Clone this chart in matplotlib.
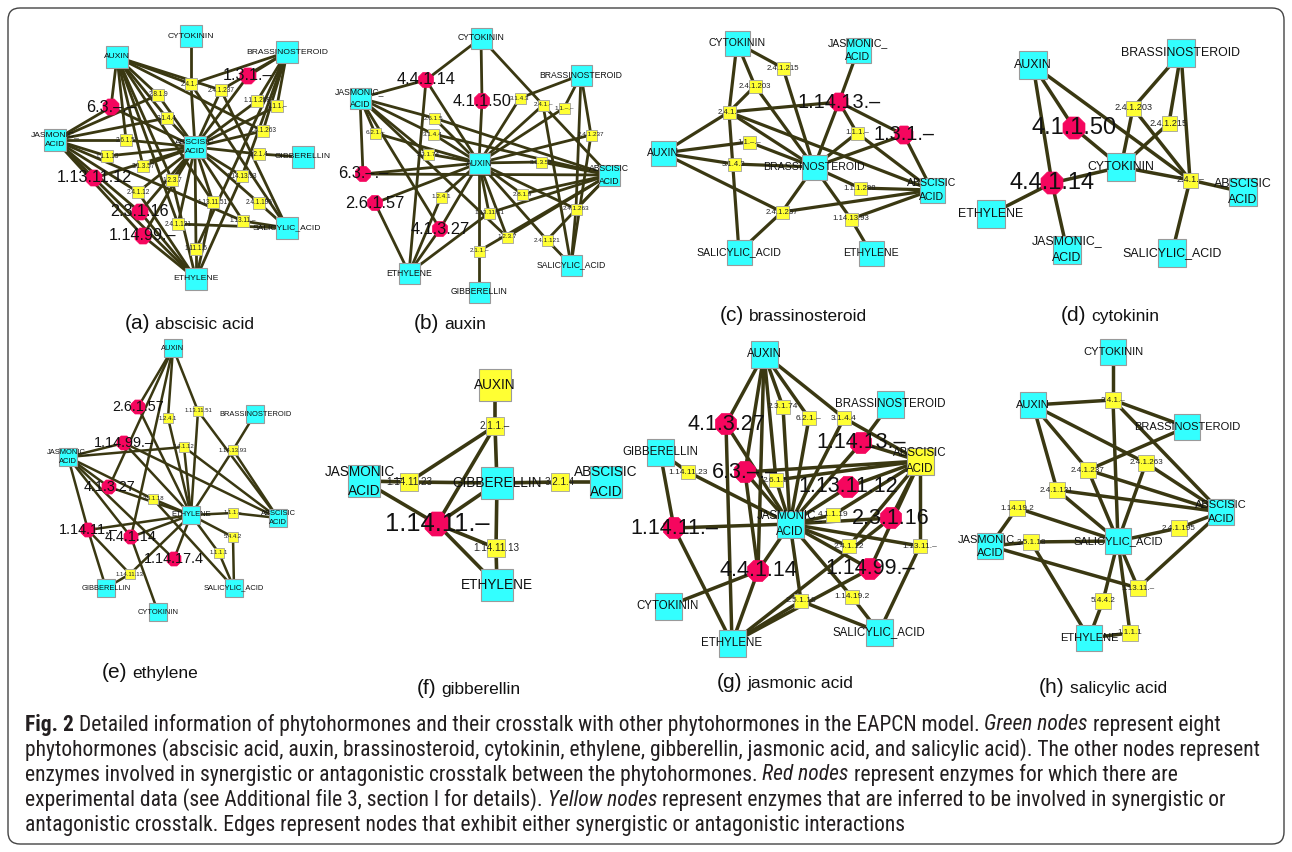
import matplotlib
matplotlib.use('Agg')
import matplotlib.pyplot as plt
from matplotlib.patches import Rectangle, RegularPolygon, FancyBboxPatch
from matplotlib import font_manager

plt.rcParams['font.family'] = ['Liberation Sans', 'DejaVu Sans']

# hormone keys -> label shown on the node
hormone_labels = {'ABA': 'ABSCISIC\nACID', 'AUX': 'AUXIN', 'BR': 'BRASSINOSTEROID',
                  'CK': 'CYTOKININ', 'ETH': 'ETHYLENE', 'GA': 'GIBBERELLIN',
                  'JA': 'JASMONIC_\nACID', 'SA': 'SALICYLIC_ACID'}

# ---- (a) abscisic acid ----
hormones_a = {'CK': (191, 36), 'AUX': (117, 57), 'BR': (287, 52), 'JA': (55, 140),
              'ABA': (195, 147), 'GA': (303, 157), 'SA': (287, 228), 'ETH': (196, 279)}
red_a = {'1.3.1.-': (248, 76), '6.3.-.-': (111, 107), '1.13.11.12': (94, 178),
         '2.3.1.16': (140, 212), '1.14.99.-': (143, 236)}
yellow_a = {'2.4.1.-': (191, 84), '2.4.1.237': (221, 90), '2.8.1.9': (158, 95),
            '1.1.1.288': (257, 101), '1.1.1.-': (277, 106), '3.1.4.4': (167, 118),
            '2.4.1.263': (263, 131), '2.6.1.5': (126, 140), '1.1.1.13': (107, 156),
            '3.2.1.4': (259, 154), '3.1.3.57': (143, 166), '1.2.3.7': (172, 180),
            '1.14.13.93': (242, 176), '2.4.1.12': (138, 192), '1.13.11.51': (213, 202),
            '2.4.1.195': (259, 203), '2.4.1.121': (178, 224), '1.13.11.-': (243, 221),
            '1.11.1.6': (196, 249)}
edges_a = [('2.4.1.-', 'CK', 'AUX', 'BR', 'ABA', 'SA'), ('2.4.1.237', 'AUX', 'BR', 'ABA', 'SA'),
           ('2.8.1.9', 'AUX', 'ABA', 'JA'), ('1.3.1.-', 'BR', 'ABA'), ('1.1.1.288', 'BR', 'ABA'),
           ('1.1.1.-', 'BR', 'ABA'), ('3.1.4.4', 'AUX', 'JA', 'ABA'), ('2.4.1.263', 'BR', 'ABA', 'AUX'),
           ('2.6.1.5', 'AUX', 'JA', 'ABA'), ('1.1.1.13', 'JA', 'ABA'), ('3.2.1.4', 'GA', 'ABA'),
           ('3.1.3.57', 'AUX', 'ABA'), ('1.2.3.7', 'AUX', 'ABA', 'ETH'),
           ('1.14.13.93', 'BR', 'ABA', 'ETH'), ('2.4.1.12', 'JA', 'ABA', 'ETH'),
           ('6.3.-.-', 'AUX', 'JA', 'ABA'), ('1.13.11.12', 'JA', 'ABA', 'ETH'),
           ('2.3.1.16', 'JA', 'ABA', 'ETH'), ('1.14.99.-', 'JA', 'ABA', 'ETH'),
           ('1.13.11.51', 'AUX', 'ABA', 'ETH'), ('2.4.1.195', 'ABA', 'SA'),
           ('2.4.1.121', 'AUX', 'ABA', 'SA'), ('1.13.11.-', 'JA', 'ABA', 'SA'),
           ('1.11.1.6', 'ABA', 'ETH', 'BR')]

# ---- (b) auxin ----
hormones_b = {'CK': (481, 38), 'BR': (581, 75), 'JA': (360, 98), 'AUX': (479, 163),
              'ABA': (609, 175), 'SA': (571, 265), 'ETH': (409, 273), 'GA': (479, 292)}
red_b = {'4.4.1.14': (426, 80), '4.1.1.50': (482, 101), '6.3.-.-': (363, 174),
         '2.6.1.57': (375, 203), '4.1.3.27': (440, 229)}
yellow_b = {'3.1.4.3': (520, 98), '2.4.1.-': (543, 105), '1.1.-.-': (564, 108),
            '2.6.1.5': (434, 118), '6.2.1.-': (375, 133), '3.1.4.4': (433, 134),
            '2.4.1.237': (591, 135), '2.3.1.74': (428, 154), '3.1.3.57': (541, 162),
            '1.2.4.1': (441, 197), '2.8.1.9': (522, 194), '1.13.11.51': (489, 213),
            '2.4.1.263': (576, 209), '1.2.3.7': (507, 237), '2.4.1.121': (547, 240),
            '2.1.1.-': (479, 251)}
edges_b = [('4.4.1.14', 'CK', 'JA', 'AUX', 'ETH'), ('4.1.1.50', 'CK', 'AUX'),
           ('2.4.1.-', 'CK', 'AUX', 'ABA', 'SA'), ('3.1.4.3', 'BR', 'AUX'), ('1.1.-.-', 'BR', 'AUX'),
           ('2.4.1.237', 'BR', 'AUX', 'SA'), ('2.4.1.263', 'BR', 'AUX', 'ABA', 'SA'),
           ('6.2.1.-', 'JA', 'AUX'), ('2.6.1.5', 'JA', 'AUX', 'ABA'), ('3.1.4.4', 'JA', 'AUX', 'ABA'),
           ('2.3.1.74', 'JA', 'AUX'), ('6.3.-.-', 'JA', 'AUX', 'ABA'), ('2.6.1.57', 'AUX', 'ETH'),
           ('4.1.3.27', 'JA', 'AUX', 'ETH'), ('1.2.4.1', 'AUX', 'ETH'), ('3.1.3.57', 'AUX', 'ABA'),
           ('2.8.1.9', 'AUX', 'ABA'), ('1.13.11.51', 'AUX', 'ABA', 'ETH'),
           ('1.2.3.7', 'JA', 'AUX', 'ABA'), ('2.4.1.121', 'AUX', 'ABA', 'SA'),
           ('2.1.1.-', 'AUX', 'GA', 'ABA')]

# ---- (c) brassinosteroid ----
hormones_c = {'CK': (737, 43), 'JA': (858, 50), 'AUX': (663, 153), 'BR': (814, 167),
              'ABA': (932, 190), 'SA': (739, 252), 'ETH': (871, 253)}
red_c = {'1.14.13.-': (839, 102), '1.3.1.-': (904, 135)}
yellow_c = {'2.4.1.215': (783, 68), '2.4.1.203': (755, 86), '2.4.1.-': (729, 112),
            '1.1.1.-': (857, 133), '1.1.-.-': (749, 142), '3.1.4.3': (734, 164),
            '1.1.1.288': (860, 188), '2.4.1.237': (782, 212), '1.14.13.93': (851, 219)}
edges_c = [('2.4.1.215', 'CK', 'BR'), ('2.4.1.203', 'CK', 'BR', '2.4.1.-'),
           ('2.4.1.-', 'CK', 'AUX', 'BR', 'ABA', 'SA', '1.14.13.-'), ('1.1.-.-', 'AUX', 'BR'),
           ('3.1.4.3', 'AUX', 'BR'), ('2.4.1.237', 'AUX', 'BR', 'SA', 'ABA'),
           ('1.14.13.-', 'JA', 'BR', '1.1.1.-', '1.3.1.-'), ('1.3.1.-', 'BR', 'ABA'),
           ('1.1.1.-', 'BR', 'ABA'), ('1.1.1.288', 'BR', 'ABA'), ('1.14.13.93', 'BR', 'ETH', 'ABA')]

# ---- (d) cytokinin ----
hormones_d = {'AUX': (1033, 65), 'BR': (1181, 53), 'CK': (1121, 167), 'ABA': (1243, 192),
              'ETH': (991, 214), 'JA': (1067, 250), 'SA': (1172, 253)}
red_d = {'4.1.1.50': (1074, 128), '4.4.1.14': (1052, 183)}
yellow_d = {'2.4.1.203': (1133, 108), '2.4.1.215': (1169, 123), '2.4.1.-': (1190, 180)}
edges_d = [('4.1.1.50', 'AUX', 'CK'), ('4.4.1.14', 'AUX', 'CK', 'ETH', 'JA'),
           ('2.4.1.203', 'BR', 'CK', '2.4.1.-'), ('2.4.1.215', 'BR', 'CK'),
           ('2.4.1.-', 'AUX', 'BR', 'CK', 'ABA', 'SA')]

# ---- (e) ethylene ----
hormones_e = {'AUX': (173, 348), 'BR': (255, 414), 'JA': (68, 457), 'ETH': (191, 515),
              'ABA': (278, 518), 'GA': (106, 588), 'SA': (234, 588), 'CK': (158, 612)}
red_e = {'2.6.1.57': (138, 407), '1.14.99.-': (124, 443), '4.1.3.27': (109, 487),
         '1.14.11.-': (88, 530), '4.4.1.14': (131, 537), '1.14.17.4': (174, 559)}
yellow_e = {'1.2.4.1': (168, 418), '1.13.11.51': (198, 411), '2.4.1.12': (184, 447),
            '1.14.13.93': (233, 450), '2.5.1.18': (153, 499), '1.1.1.-': (233, 513),
            '5.4.4.2': (233, 537), '1.1.1.1': (219, 553), '1.14.11.13': (130, 574)}
edges_e = [('2.6.1.57', 'AUX', 'ETH'), ('1.2.4.1', 'AUX', 'ETH'),
           ('1.13.11.51', 'AUX', 'ETH', 'ABA'), ('4.1.3.27', 'AUX', 'JA', 'ETH'),
           ('4.4.1.14', 'AUX', 'JA', 'ETH', 'CK'), ('1.14.99.-', 'JA', 'ETH', 'ABA'),
           ('2.4.1.12', 'JA', 'ETH', 'ABA'), ('1.14.13.93', 'BR', 'ETH', 'ABA'),
           ('2.5.1.18', 'JA', 'ETH', 'SA'), ('1.14.11.-', 'JA', 'ETH', 'GA', '1.14.11.13'),
           ('1.14.17.4', 'JA', 'ETH'), ('1.14.11.13', 'ETH', 'GA'), ('1.1.1.-', 'ETH', 'ABA'),
           ('5.4.4.2', 'ETH', 'SA'), ('1.1.1.1', 'ETH', 'SA')]

# ---- (f) gibberellin ----
hormones_f = {'AUX': (495, 385), 'JA': (364, 481), 'GA': (497, 483), 'ABA': (606, 482),
              'ETH': (497, 585)}
red_f = {'1.14.11.-': (437, 524)}
yellow_f = {'2.1.1.-': (495, 426), '1.14.11.23': (409, 482), '3.2.1.4': (560, 482),
            '1.14.11.13': (496, 548)}
edges_f = [('2.1.1.-', 'AUX', 'GA', '1.14.11.23', '1.14.11.-'), ('1.14.11.23', 'JA', 'GA'),
           ('3.2.1.4', 'GA', 'ABA'), ('1.14.11.-', 'JA', 'GA', 'ETH', '1.14.11.13'),
           ('1.14.11.13', 'GA', 'ETH')]

# ---- (g) jasmonic acid ----
hormones_g = {'AUX': (764, 354), 'BR': (890, 404), 'ABA': (920, 461), 'GA': (660, 452),
              'JA': (790, 524), 'CK': (668, 606), 'ETH': (732, 643), 'SA': (879, 632)}
red_g = {'4.1.3.27': (726, 424), '1.14.13.-': (861, 443), '6.3.-.-': (745, 472),
         '1.13.11.12': (848, 487), '1.14.11.-': (674, 528), '2.3.1.16': (891, 518),
         '4.4.1.14': (758, 571), '1.14.99.-': (870, 569)}
yellow_g = {'2.3.1.74': (783, 407), '6.2.1.-': (809, 418), '3.1.4.4': (844, 418),
            '1.14.11.23': (688, 472), '2.6.1.5': (776, 480), '4.1.1.19': (833, 515),
            '2.4.1.12': (849, 546), '1.13.11.-': (920, 546), '2.5.1.18': (801, 601),
            '1.14.19.2': (852, 597)}
edges_g = [('4.1.3.27', 'AUX', 'JA', 'ETH'), ('6.3.-.-', 'AUX', 'JA', 'ABA', '4.4.1.14'),
           ('4.4.1.14', 'AUX', 'JA', 'ETH', 'CK'), ('2.3.1.74', 'AUX', 'JA'), ('6.2.1.-', 'AUX', 'JA'),
           ('3.1.4.4', 'AUX', 'JA', 'ABA'), ('1.14.13.-', 'BR', 'JA', 'ABA'),
           ('1.14.11.23', 'GA', 'JA'), ('1.14.11.-', 'GA', 'JA', 'ETH'),
           ('2.6.1.5', 'AUX', 'JA', 'ABA'), ('1.13.11.12', 'JA', 'ABA'), ('4.1.1.19', 'JA', 'ABA'),
           ('2.3.1.16', 'JA', 'ABA', 'ETH'), ('2.4.1.12', 'JA', 'ABA'),
           ('1.13.11.-', 'JA', 'ABA', 'SA'), ('1.14.99.-', 'JA', 'ABA', 'ETH'),
           ('2.5.1.18', 'JA', 'ETH', 'SA'), ('1.14.19.2', 'JA', 'SA')]

# ---- (h) salicylic acid ----
hormones_h = {'CK': (1113, 352), 'AUX': (1033, 405), 'BR': (1187, 427), 'ABA': (1221, 512),
              'JA': (990, 546), 'SA': (1118, 541), 'ETH': (1089, 638)}
red_h = {}
yellow_h = {'2.4.1.-': (1113, 400), '2.4.1.237': (1088, 470), '2.4.1.263': (1146, 463),
            '2.4.1.121': (1057, 490), '1.14.19.2': (1017, 508), '2.5.1.18': (1031, 542),
            '2.4.1.195': (1179, 528), '1.13.11.-': (1138, 588), '5.4.4.2': (1103, 601),
            '1.1.1.1': (1130, 633)}
edges_h = [('2.4.1.-', 'CK', 'AUX', 'BR', 'SA', 'ABA'), ('2.4.1.237', 'AUX', 'BR', 'SA', 'ABA'),
           ('2.4.1.263', 'AUX', 'SA', 'ABA'), ('2.4.1.121', 'AUX', 'SA', 'ABA'),
           ('1.14.19.2', 'JA', 'SA'), ('2.5.1.18', 'JA', 'SA', 'ETH'), ('2.4.1.195', 'SA', 'ABA'),
           ('1.13.11.-', 'JA', 'SA', 'ABA'), ('5.4.4.2', 'SA', 'ETH'), ('1.1.1.1', 'SA', 'ETH')]

# hormone nodes drawn yellow in a panel
yellow_hormones = {'f': ['AUX'], 'g': ['ABA']}

panel_titles = ['(a)', '(b)', '(c)', '(d)', '(e)', '(f)', '(g)', '(h)']
panel_names = ['abscisic acid', 'auxin', 'brassinosteroid', 'cytokinin',
               'ethylene', 'gibberellin', 'jasmonic acid', 'salicylic acid']

caption_lines = [
    [('Fig. 2', 'bold'), ('Detailed information of phytohormones and their crosstalk with other phytohormones in the EAPCN model.', 'normal'),
     ('Green nodes', 'italic'), ('represent eight', 'normal')],
    [('phytohormones (abscisic acid, auxin, brassinosteroid, cytokinin, ethylene, gibberellin, jasmonic acid, and salicylic acid). The other nodes represent', 'normal')],
    [('enzymes involved in synergistic or antagonistic crosstalk between the phytohormones.', 'normal'),
     ('Red nodes', 'italic'), ('represent enzymes for which there are', 'normal')],
    [('experimental data (see Additional file 3, section I for details).', 'normal'),
     ('Yellow nodes', 'italic'), ('represent enzymes that are inferred to be involved in synergistic or', 'normal')],
    [('antagonistic crosstalk. Edges represent nodes that exhibit either synergistic or antagonistic interactions', 'normal')],
]

# ---------------- drawing ----------------
panels = {
    'a': (hormones_a, red_a, yellow_a, edges_a),
    'b': (hormones_b, red_b, yellow_b, edges_b),
    'c': (hormones_c, red_c, yellow_c, edges_c),
    'd': (hormones_d, red_d, yellow_d, edges_d),
    'e': (hormones_e, red_e, yellow_e, edges_e),
    'f': (hormones_f, red_f, yellow_f, edges_f),
    'g': (hormones_g, red_g, yellow_g, edges_g),
    'h': (hormones_h, red_h, yellow_h, edges_h),
}
# hs: hormone square, ys: enzyme square, rs: red node size, fonts, line width
sizes = {
    'a': dict(hs=22, ys=12, rs=16, hf=6.1, rf=11.6, yf=4.7, lw=2.0),
    'b': dict(hs=21, ys=11, rs=15, hf=6.2, rf=11.8, yf=4.6, lw=2.0),
    'c': dict(hs=25, ys=13, rs=18, hf=7.6, rf=14.3, yf=5.6, lw=2.3),
    'd': dict(hs=28, ys=15, rs=22, hf=8.9, rf=17.0, yf=6.6, lw=2.5),
    'e': dict(hs=18, ys=10, rs=14, hf=5.4, rf=10.4, yf=4.3, lw=1.8),
    'f': dict(hs=32, ys=18, rs=24, hf=9.8, rf=18.4, yf=7.1, lw=2.6),
    'g': dict(hs=27, ys=14, rs=21, hf=8.3, rf=15.5, yf=6.0, lw=2.5),
    'h': dict(hs=26, ys=16, rs=20, hf=8.0, rf=15.0, yf=5.9, lw=2.5),
}
title_pos = [(189, 323), (450, 323), (793, 315), (1110, 315),
             (150, 672), (469, 688), (785, 682), (1103, 687)]

CYAN, YELLOW, RED, EDGE = '#33ffff', '#ffff33', '#f5065e', '#3a3812'

fig = plt.figure(figsize=(12.92, 8.52), dpi=100)
ax = fig.add_axes([0, 0, 1, 1])
ax.set_xlim(0, 1292)
ax.set_ylim(852, 0)
ax.axis('off')
renderer = fig.canvas.get_renderer()


def dash(s):
    return s.replace('-', '\u2013')


for key, (hormones, reds, yellows, edges) in panels.items():
    st = sizes[key]
    pos = {}
    pos.update(hormones)
    pos.update(reds)
    pos.update(yellows)
    for e in edges:
        x0, y0 = pos[e[0]]
        for other in e[1:]:
            x1, y1 = pos[other]
            ax.plot([x0, x1], [y0, y1], color=EDGE, lw=st['lw'], zorder=1,
                    solid_capstyle='butt')
    hy = yellow_hormones.get(key, [])
    for h, (x, y) in hormones.items():
        s = st['hs']
        ax.add_patch(Rectangle((x - s / 2, y - s / 2), s, s, facecolor=YELLOW if h in hy else CYAN,
                               edgecolor='#9a9a9a', lw=0.8, zorder=2))
        ax.text(x, y, hormone_labels[h], ha='center', va='center', fontsize=st['hf'],
                linespacing=1.55, color='#111111', zorder=4)
    for name, (x, y) in yellows.items():
        s = st['ys']
        ax.add_patch(Rectangle((x - s / 2, y - s / 2), s, s, facecolor=YELLOW,
                               edgecolor='#a0a0a0', lw=0.6, zorder=2))
        ax.text(x, y, dash(name), ha='center', va='center', fontsize=st['yf'],
                color='#222222', zorder=4)
    for name, (x, y) in reds.items():
        r = st['rs'] / 1.85
        ax.add_patch(RegularPolygon((x, y), 8, radius=r, orientation=3.14159 / 8,
                                    facecolor=RED, edgecolor=RED, lw=0.5, zorder=3))
        ax.text(x, y, dash(name), ha='center', va='center', fontsize=st['rf'],
                color='#111111', zorder=4)

# panel titles
for (cx, cy), tag, name in zip(title_pos, panel_titles, panel_names):
    t1 = ax.text(0, cy + 6, tag, fontsize=15, va='baseline', ha='left', color='#111111')
    t2 = ax.text(0, cy + 6, name, fontsize=12.5, va='baseline', ha='left', color='#111111')
    w1 = t1.get_window_extent(renderer).width
    w2 = t2.get_window_extent(renderer).width
    gap = 5
    x0 = cx - (w1 + gap + w2) / 2
    t1.set_x(x0)
    t2.set_x(x0 + w1 + gap)


# figure caption: a narrow face if one is installed
def has_font(name):
    try:
        font_manager.findfont(font_manager.FontProperties(family=name), fallback_to_default=False)
        return True
    except Exception:
        return False


cap_family = 'Liberation Sans'
for cand in ['Liberation Sans Narrow', 'Roboto Condensed', 'DejaVu Sans Condensed', 'Open Sans Condensed']:
    if has_font(cand):
        cap_family = cand
        break


def run_width(text, style, size):
    t = ax.text(0, 0, text, fontsize=size, family=cap_family,
                fontweight='bold' if style == 'bold' else 'normal',
                fontstyle='italic' if style == 'italic' else 'normal')
    w = t.get_window_extent(renderer).width
    t.remove()
    return w


def line_width(runs, size, space):
    return sum(run_width(t, s, size) for t, s in runs) + space * (len(runs) - 1)


base = 12.0
space = run_width('a a', 'normal', base) - run_width('aa', 'normal', base)
widest = max(line_width(runs, base, space) for runs in caption_lines)
cap_size = base * 1237 / widest
space = run_width('a a', 'normal', cap_size) - run_width('aa', 'normal', cap_size)

line_y = [725, 750, 775, 800, 825]
for runs, y in zip(caption_lines, line_y):
    x = 25
    for text, style in runs:
        t = ax.text(x, y, text, fontsize=cap_size, family=cap_family, va='center', ha='left',
                    color='#231f20',
                    fontweight='bold' if style == 'bold' else 'normal',
                    fontstyle='italic' if style == 'italic' else 'normal')
        x += t.get_window_extent(renderer).width + space

ax.add_patch(FancyBboxPatch((8, 8), 1276, 836, boxstyle='round,pad=0,rounding_size=12',
                            facecolor='none', edgecolor='#444444', lw=1.0, zorder=0))

fig.savefig('out.png', dpi=100)
